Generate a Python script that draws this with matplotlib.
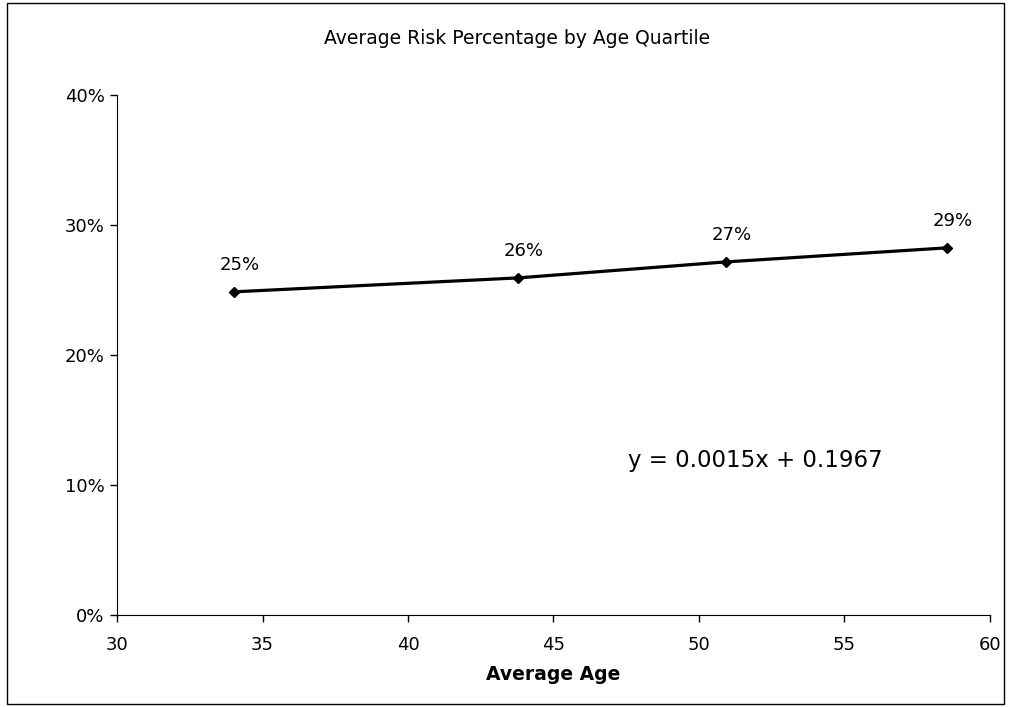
import matplotlib
matplotlib.use('Agg')
import matplotlib.pyplot as plt
from matplotlib.ticker import PercentFormatter
from matplotlib.patches import Rectangle

# Данные
avg_age = [34.02, 43.78, 50.93, 58.52]
risk = [0.2485, 0.2592, 0.2715, 0.2823]
point_labels = ['25%', '26%', '27%', '29%']
equation = 'y = 0.0015x + 0.1967'

plt.rcParams['font.family'] = ['DejaVu Sans']

fig = plt.figure(figsize=(10.1, 7.07), dpi=100)
ax = fig.add_axes([0.116, 0.130, 0.864, 0.736])

ax.plot(avg_age, risk, color='black', linewidth=2.3, marker='D', markersize=5.5)
for x, y, lab in zip(avg_age, risk, point_labels):
    ax.annotate(lab, (x, y), xytext=(4, 16), textcoords='offset points',
                ha='center', va='baseline', fontsize=13)

ax.text(47.55, 0.119, equation, fontsize=16.5, ha='left', va='center')

ax.set_xlim(30, 60)
ax.set_ylim(0, 0.4)
ax.set_xticks(range(30, 61, 5))
ax.set_yticks([0, 0.1, 0.2, 0.3, 0.4])
ax.yaxis.set_major_formatter(PercentFormatter(1.0, decimals=0))
ax.tick_params(direction='out', length=5, labelsize=13, width=1)
ax.tick_params(axis='x', pad=10)
ax.tick_params(axis='y', pad=4)
ax.spines['top'].set_visible(False)
ax.spines['right'].set_visible(False)
ax.set_xlabel('Average Age', fontsize=13.5, fontweight='bold', labelpad=8)

# заголовок по центру области диаграммы
fig.text(517 / 1010, 1 - 38 / 707, 'Average Risk Percentage by Age Quartile',
         fontsize=13.5, ha='center', va='center')

# рамка вокруг рисунка
fig.patches.append(Rectangle((0.007, 0.004), 0.987, 0.992, transform=fig.transFigure,
                             fill=False, edgecolor='black', linewidth=1))

fig.savefig('out.png', dpi=100)
